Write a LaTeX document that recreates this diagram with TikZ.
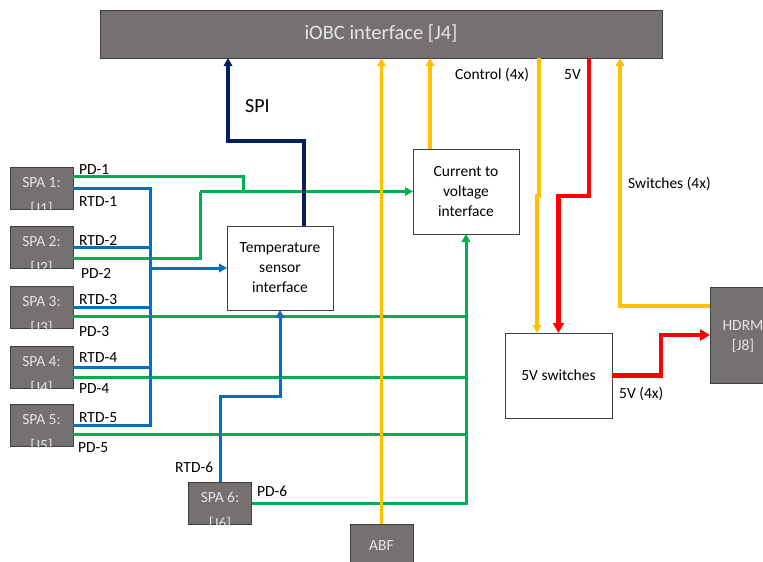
\documentclass[tikz,border=0pt]{standalone}
\usepackage{fontspec}
\setmainfont{Carlito}
\usetikzlibrary{arrows.meta,calc}
\definecolor{boxgray}{HTML}{767171}
\definecolor{boxedge}{HTML}{404040}
\definecolor{boxtxt}{HTML}{E4E4E4}
\definecolor{cgreen}{HTML}{00B050}
\definecolor{cblue}{HTML}{0070C0}
\definecolor{cyellow}{HTML}{FFC000}
\definecolor{cred}{HTML}{FF0000}
\definecolor{cnavy}{HTML}{002060}
\tikzset{
  graybox/.style={draw=boxedge, fill=boxgray, line width=1pt, inner sep=0pt, outer sep=0pt},
  graytxt/.style={text=boxtxt, align=center, inner sep=0pt, font=\fontsize{15.5pt}{20pt}\selectfont},
  whitebox/.style={draw=boxedge, fill=white, line width=1pt, inner sep=0pt, outer sep=0pt, align=center, font=\fontsize{15.5pt}{20pt}\selectfont},
  lbl/.style={anchor=base west, inner sep=0pt, font=\fontsize{15.5pt}{20pt}\selectfont},
  gr/.style={draw=cgreen, line width=3pt},
  bl/.style={draw=cblue, line width=3pt},
  ye/.style={draw=cyellow, line width=3.2pt},
  rd/.style={draw=cred, line width=4.2pt},
  nv/.style={draw=cnavy, line width=3.4pt},
  tipsm/.style={-{Triangle[length=8pt,width=8.5pt]}},
  tipbig/.style={-{Triangle[length=10pt,width=11pt]}},
}
\newcommand\spabox[5]{%
  \node[graybox, minimum width=63pt, minimum height=42pt] (#1) at (#2,#3) {};
  \begin{scope}
    \clip (#1.south west) rectangle (#1.north east);
    \node[graytxt, font=\fontsize{15.5pt}{26pt}\selectfont] at ($(#1.center)+(0,8.5)$) {#4\\{#5}};
  \end{scope}}
\begin{document}
\begin{tikzpicture}[x=1pt,y=-1pt]
\useasboundingbox (0,0) rectangle (763,562);
\clip (0,0) rectangle (763,562);

% top interface
\node[graybox, minimum width=562pt, minimum height=48pt] (iobc) at (381,34) {};
\node[graytxt, font=\fontsize{20.5pt}{24pt}\selectfont] (iobct) at (381,33) {iOBC interface [J4]};

% SPA boxes
\spabox{spa1}{41.5}{188}{SPA 1:}{[J1]}
\spabox{spa2}{41.5}{247.5}{SPA 2:}{[J2]}
\spabox{spa3}{41.5}{307}{SPA 3:}{[J3]}
\spabox{spa4}{41.5}{367}{SPA 4:}{[J4]}
\spabox{spa5}{41.5}{425.5}{SPA 5:}{[J5]}
\spabox{spa6}{220}{503}{SPA 6:}{[J6]}

% other gray boxes
\node[graybox, minimum width=63pt, minimum height=42pt] (abf) at (381.5,545) {};
\node[graytxt] (abft) at (381.5,546) {ABF};
\node[graybox, minimum width=64pt, minimum height=96pt] (hdrm) at (742,335) {};
\node[graytxt] (hdrmt) at (743,337) {HDRM\\{[J8]}};

% white boxes
\node[whitebox, minimum width=106pt, minimum height=84pt] (temp) at (280,268) {Temperature\\sensor\\interface};
\node[whitebox, minimum width=106pt, minimum height=85pt] (cur) at (466,191.5) {Current to\\voltage\\interface};
\node[whitebox, minimum width=107pt, minimum height=85pt] (sw) at (558.5,375.5) {5V switches};

% helper coordinates
\coordinate (bus) at (150,0);
\coordinate (pdx) at (200,0);
\coordinate (pdj) at (243,0);
\coordinate (r6) at (250,396);
\coordinate (spiA) at (228,141);
\coordinate (ctl) at (539,196);
\coordinate (v5) at (589,196);
\coordinate (v4) at (661,0);
\coordinate (swx) at (620,0);

% green PD lines
\draw[gr] ([yshift=12pt]spa1.east) -| (cur.west -| pdj);
\draw[gr] ([yshift=-11pt]spa2.east) -| (cur.west -| pdx);
\draw[gr, tipsm] (cur.west -| pdx) -- (cur.west);
\draw[gr] ([yshift=-9pt]spa3.east) -- ([yshift=-9pt]spa3.east -| cur.south);
\draw[gr] ([yshift=-10pt]spa4.east) -- ([yshift=-10pt]spa4.east -| cur.south);
\draw[gr] ([yshift=-8.5pt]spa5.east) -- ([yshift=-8.5pt]spa5.east -| cur.south);
\draw[gr, tipsm] (spa6.east) -| (cur.south);

% blue RTD lines
\draw[bl] (spa1.east) -| (spa5.east -| bus) -- (spa5.east);
\draw[bl] (spa2.east) -- (spa2.east -| bus);
\draw[bl] (spa3.east) -- (spa3.east -| bus);
\draw[bl] (spa4.east) -- (spa4.east -| bus);
\draw[bl, tipsm] (temp.west -| bus) -- (temp.west);
\draw[bl, tipsm] (spa6.north) |- (r6) -| (temp.south);

% SPI
\draw[nv, tipsm] ([xshift=24pt]temp.north) |- (spiA) -- (spiA |- iobc.south);

% yellow lines
\draw[ye, tipsm] (abf.north) -- (abf.north |- iobc.south);
\draw[ye, tipsm] ([xshift=-36pt]cur.north) -- ([xshift=-36pt]cur.north |- iobc.south);
\draw[ye, tipsm] (ctl |- iobc.south) -- (ctl) -- ++(-2,0) coordinate (ctl2) -- (ctl2 |- sw.north);
\draw[ye, tipsm] ([yshift=29pt]hdrm.west) -| (swx |- iobc.south);

% red lines
\draw[rd, tipbig] (v5 |- iobc.south) -- (v5) -| (sw.north);
\draw[rd, tipbig] (sw.east) -| (v4 |- hdrm.west) -- (hdrm.west);

% labels
\node[lbl] (lpd1) at (79,174) {PD-1};
\node[lbl] (lrtd1) at (79,206) {RTD-1};
\node[lbl] (lrtd2) at (79,245) {RTD-2};
\node[lbl] (lpd2) at (81,278) {PD-2};
\node[lbl] (lrtd3) at (79,304) {RTD-3};
\node[lbl] (lpd3) at (79,336) {PD-3};
\node[lbl] (lrtd4) at (79,362) {RTD-4};
\node[lbl] (lpd4) at (79,393) {PD-4};
\node[lbl] (lrtd5) at (79,422) {RTD-5};
\node[lbl] (lpd5) at (78,452) {PD-5};
\node[lbl] (lrtd6) at (175,472) {RTD-6};
\node[lbl] (lpd6) at (257,496) {PD-6};
\node[lbl, font=\fontsize{20pt}{24pt}\selectfont] (lspi) at (245,112) {SPI};
\node[lbl] (lctl) at (455,79.5) {Control (4x)};
\node[lbl] (l5v) at (564,79) {5V};
\node[lbl] (lswi) at (628,188) {Switches (4x)};
\node[lbl] (l5v4) at (619,398) {5V (4x)};
\end{tikzpicture}
\end{document}
